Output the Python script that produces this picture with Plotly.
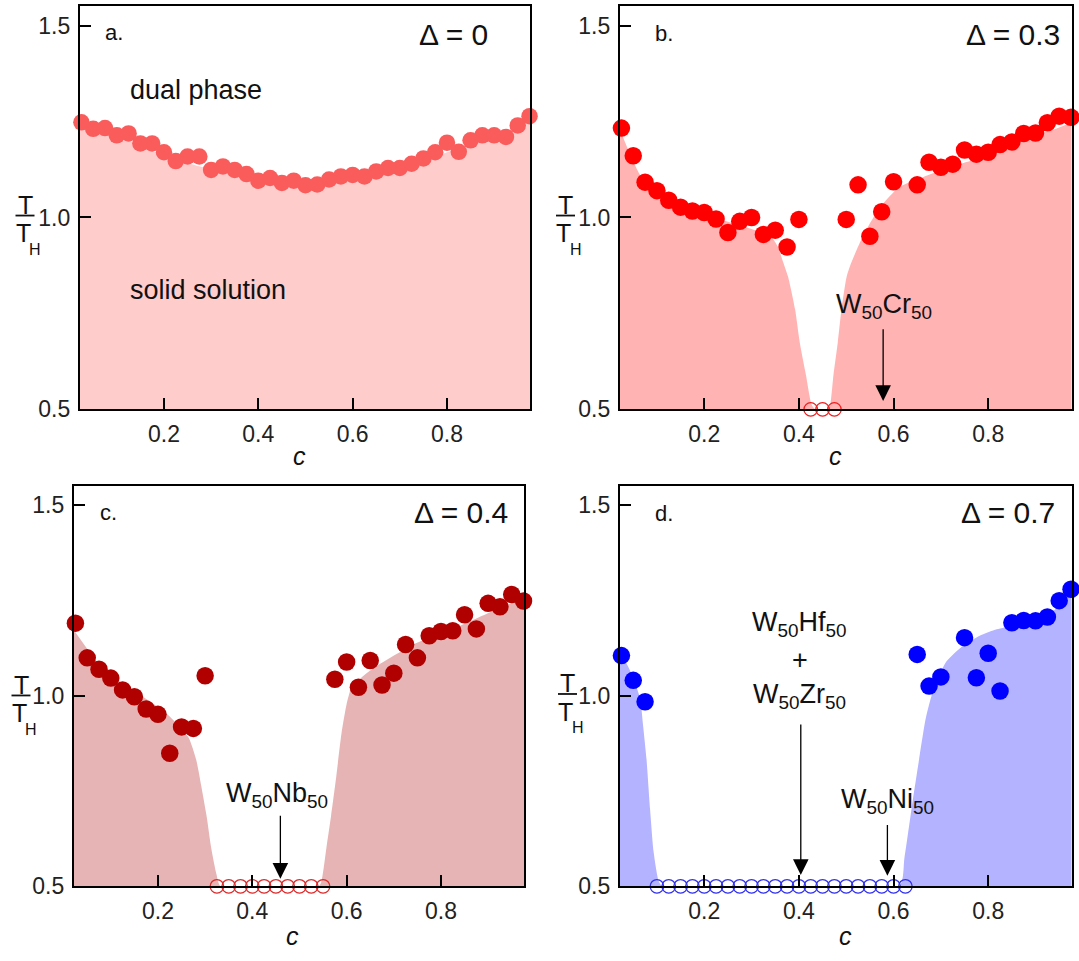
import plotly.graph_objects as go

W, H = 1079, 961
FONT = "Liberation Sans, Arial, sans-serif"
TXT = "#111111"

# ---------------- data ----------------
# panel a (Delta = 0)
c_a = [0.025, 0.05, 0.075, 0.1, 0.125, 0.15, 0.175, 0.2, 0.225, 0.25, 0.275, 0.3, 0.325,
       0.35, 0.375, 0.4, 0.425, 0.45, 0.475, 0.5, 0.525, 0.55, 0.575, 0.6, 0.625, 0.65,
       0.675, 0.7, 0.725, 0.75, 0.775, 0.8, 0.825, 0.85, 0.875, 0.9, 0.925, 0.95, 0.975]
t_a = [1.248, 1.231, 1.233, 1.214, 1.219, 1.193, 1.193, 1.170, 1.147, 1.159, 1.159, 1.124,
       1.133, 1.124, 1.113, 1.096, 1.103, 1.090, 1.096, 1.084, 1.086, 1.099, 1.107, 1.111,
       1.107, 1.120, 1.129, 1.129, 1.140, 1.154, 1.170, 1.195, 1.171, 1.201, 1.214, 1.214,
       1.210, 1.240, 1.264]
a_bc = [0.02, 0.1, 0.2, 0.3, 0.4, 0.5, 0.6, 0.7, 0.8, 0.9, 0.98]
a_bt = [1.245, 1.215, 1.16, 1.125, 1.098, 1.088, 1.107, 1.13, 1.17, 1.21, 1.255]

# panel b (Delta = 0.3)
c_b = [0.025, 0.05, 0.075, 0.1, 0.125, 0.15, 0.175, 0.2, 0.225, 0.25, 0.275, 0.3, 0.325,
       0.35, 0.375, 0.4, 0.5, 0.525, 0.55, 0.575, 0.6, 0.65, 0.675, 0.7, 0.725, 0.75,
       0.775, 0.8, 0.825, 0.85, 0.875, 0.9, 0.925, 0.95, 0.975]
t_b = [1.233, 1.161, 1.092, 1.070, 1.045, 1.027, 1.017, 1.013, 0.996, 0.961, 0.990, 1.000,
       0.956, 0.967, 0.923, 0.995, 0.995, 1.085, 0.951, 1.015, 1.093, 1.085, 1.144, 1.131,
       1.139, 1.176, 1.165, 1.170, 1.190, 1.197, 1.219, 1.220, 1.247, 1.264, 1.261]
open_b = [0.425, 0.45, 0.475]
b_bc = [0.02, 0.07, 0.14, 0.22, 0.29, 0.34, 0.355, 0.365, 0.377, 0.392, 0.402, 0.415, 0.427,
        0.435, 0.46, 0.466, 0.473, 0.482, 0.49, 0.501, 0.51, 0.536, 0.571, 0.613, 0.662,
        0.712, 0.794, 0.867, 0.94, 0.98]
b_bt = [1.235, 1.10, 1.035, 1.0, 0.974, 0.952, 0.925, 0.89, 0.846, 0.76, 0.673, 0.589, 0.512,
        0.5, 0.5, 0.512, 0.589, 0.673, 0.76, 0.846, 0.88, 0.953, 1.026, 1.08, 1.105,
        1.128, 1.16, 1.2, 1.23, 1.25]

# panel c (Delta = 0.4)
c_c = [0.025, 0.05, 0.075, 0.1, 0.125, 0.15, 0.175, 0.2, 0.225, 0.25, 0.275, 0.3,
       0.575, 0.6, 0.625, 0.65, 0.675, 0.7, 0.725, 0.75, 0.775, 0.8, 0.825, 0.85, 0.875,
       0.9, 0.925, 0.95, 0.975]
t_c = [1.190, 1.099, 1.069, 1.046, 1.015, 0.997, 0.965, 0.951, 0.849, 0.918, 0.914, 1.052,
       1.043, 1.088, 1.022, 1.092, 1.028, 1.059, 1.134, 1.099, 1.157, 1.168, 1.170, 1.212,
       1.175, 1.242, 1.233, 1.265, 1.248]
open_c = [0.325, 0.35, 0.375, 0.4, 0.425, 0.45, 0.475, 0.5, 0.525, 0.55]
c_bc = [0.02, 0.087, 0.16, 0.218, 0.264, 0.281, 0.292, 0.303, 0.313, 0.324, 0.333, 0.54,
        0.546, 0.557, 0.567, 0.578, 0.589, 0.6, 0.61, 0.631, 0.658, 0.68, 0.743, 0.816,
        0.889, 0.94, 0.98]
c_bt = [1.175, 1.065, 1.004, 0.953, 0.892, 0.832, 0.762, 0.685, 0.6, 0.532, 0.5, 0.5,
        0.51, 0.6, 0.685, 0.788, 0.9, 0.978, 1.02, 1.047, 1.073, 1.09, 1.135, 1.17,
        1.21, 1.238, 1.258]

# panel d (Delta = 0.7)
c_d = [0.025, 0.05, 0.075, 0.65, 0.675, 0.7, 0.75, 0.775, 0.8, 0.825, 0.85, 0.875, 0.9,
       0.925, 0.95, 0.975]
t_d = [1.105, 1.040, 0.984, 1.108, 1.025, 1.049, 1.152, 1.047, 1.111, 1.012, 1.191, 1.197,
       1.196, 1.206, 1.249, 1.279]
open_d = [0.1, 0.125, 0.15, 0.175, 0.2, 0.225, 0.25, 0.275, 0.3, 0.325, 0.35, 0.375, 0.4,
          0.425, 0.45, 0.475, 0.5, 0.525, 0.55, 0.575, 0.6, 0.625]
d_bc = [0.02, 0.043, 0.064, 0.071, 0.078, 0.0855, 0.093, 0.104, 0.112, 0.612, 0.623, 0.638,
        0.654, 0.668, 0.684, 0.712, 0.747, 0.782, 0.818, 0.853, 0.888, 0.923, 0.95, 0.98]
d_bt = [1.12, 1.066, 0.995, 0.919, 0.833, 0.703, 0.591, 0.513, 0.5, 0.5, 0.574, 0.703,
        0.833, 0.94, 1.015, 1.09, 1.131, 1.157, 1.174, 1.184, 1.196, 1.209, 1.235, 1.275]

x_ticks = [0.2, 0.4, 0.6, 0.8]
y_ticks = [0.5, 1.0, 1.5]
deltas = ["Δ = 0", "Δ = 0.3", "Δ = 0.4", "Δ = 0.7"]
letters = ["a.", "b.", "c.", "d."]

# ---------------- styles ----------------
panels = [
    dict(c=c_a, t=t_a, bc=a_bc, bt=a_bt, op=[], dot="#fa5c5c", fill="#ffcccc", ring="#fa5c5c", size=16.5),
    dict(c=c_b, t=t_b, bc=b_bc, bt=b_bt, op=open_b, dot="#ff0000", fill="#ffb3b3", ring="#ee2020", size=17.5),
    dict(c=c_c, t=t_c, bc=c_bc, bt=c_bt, op=open_c, dot="#b00000", fill="#e6b4b4", ring="#dd2a2a", size=17.5),
    dict(c=c_d, t=t_d, bc=d_bc, bt=d_bt, op=open_d, dot="#0000ff", fill="#b3b3ff", ring="#3030f0", size=17.5),
]

def px(x):
    return x / W

def py(y):
    return 1 - y / H

xdom = [[px(80), px(530)], [px(620), px(1071.5)], [px(74), px(524)], [px(620), px(1071.5)]]
ydom = [[py(415), py(6.5)], [py(415), py(6.5)], [py(898.5), py(492.5)], [py(898.5), py(492.5)]]

fig = go.Figure()
for i, p in enumerate(panels):
    xr = "x" if i == 0 else f"x{i+1}"
    yr = "y" if i == 0 else f"y{i+1}"
    fig.add_trace(go.Scatter(x=p["bc"], y=p["bt"], mode="lines", line=dict(width=0, color=p["fill"], shape="spline", smoothing=0.6),
                             fill="tozeroy", fillcolor=p["fill"], xaxis=xr, yaxis=yr, hoverinfo="skip"))
    if p["op"]:
        fig.add_trace(go.Scatter(x=p["op"], y=[0.5] * len(p["op"]), mode="markers",
                                 marker=dict(symbol="circle-open", size=13.5, color=p["ring"], line=dict(width=1.3, color=p["ring"])),
                                 cliponaxis=False, xaxis=xr, yaxis=yr))
    fig.add_trace(go.Scatter(x=p["c"], y=p["t"], mode="markers",
                             marker=dict(size=p["size"], color=p["dot"], line=dict(width=0)),
                             cliponaxis=False, xaxis=xr, yaxis=yr))

layout = dict(width=W, height=H, margin=dict(l=0, r=0, t=0, b=0), showlegend=False,
              paper_bgcolor="white", plot_bgcolor="white", font=dict(family=FONT, color=TXT))
for i in range(4):
    kx = "xaxis" if i == 0 else f"xaxis{i+1}"
    ky = "yaxis" if i == 0 else f"yaxis{i+1}"
    ax_anchor = "y" if i == 0 else f"y{i+1}"
    ay_anchor = "x" if i == 0 else f"x{i+1}"
    layout[kx] = dict(domain=xdom[i], anchor=ax_anchor, range=[0.022, 0.976], showline=True, linecolor="black",
                      linewidth=2.4, mirror=True, ticks="inside", ticklen=11, tickwidth=2.2, tickcolor="black",
                      tickvals=x_ticks, tickformat=".1f", tickfont=dict(size=23, family=FONT, color="#222222"),
                      showgrid=False, zeroline=False, ticklabelstandoff=3)
    layout[ky] = dict(domain=ydom[i], anchor=ay_anchor, range=[0.5, 1.55], showline=True, linecolor="black",
                      linewidth=2.4, mirror=True, ticks="inside", ticklen=11, tickwidth=2.2, tickcolor="black",
                      tickvals=y_ticks, tickformat=".1f", tickfont=dict(size=23, family=FONT, color="#222222"),
                      showgrid=False, zeroline=False, ticklabelstandoff=3)
fig.update_layout(**layout)

ann = []
shapes = []

def txt(x, y, s, size, xanchor="center", italic=False):
    ann.append(dict(x=px(x), y=py(y), xref="paper", yref="paper", text=s, showarrow=False,
                    xanchor=xanchor, yanchor="middle", font=dict(size=size, family=FONT, color=TXT,
                                                                  style="italic" if italic else "normal")))

# panel letters and Delta labels
letter_pos = [(114, 33), (664, 34), (108, 520), (664, 521)]
delta_pos = [(490, 35), (1062, 35), (510, 520), (1057, 520)]
for i in range(4):
    txt(letter_pos[i][0], letter_pos[i][1], letters[i], 22)
    txt(delta_pos[i][0], delta_pos[i][1], deltas[i], 30, xanchor="right")

# c axis titles
for (x, y) in [(299, 462), (835, 462), (292, 949), (845, 949)]:
    txt(x, y, "c", 25, italic=True)

# T / T_H
for (bx, by) in [(25, 218.5), (565.5, 218.5), (21, 705), (567.5, 703.5)]:
    txt(bx, by - 11, "T", 25)
    txt(bx - 2, by + 18, "T", 25)
    txt(bx + 10, by + 34, "H", 16)
    shapes.append(dict(type="line", xref="paper", yref="paper", x0=px(bx - 9.5), x1=px(bx + 9.5),
                       y0=py(by), y1=py(by), line=dict(color=TXT, width=1.8)))

# region labels panel a
txt(128, 91, "dual phase", 27, xanchor="left")
txt(128, 294, "solid solution", 27, xanchor="left")

# compound labels
txt(884, 310, "W<sub>50</sub>Cr<sub>50</sub>", 27)
txt(277, 806, "W<sub>50</sub>Nb<sub>50</sub>", 27)
txt(799, 633, "W<sub>50</sub>Hf<sub>50</sub>", 27)
txt(800, 669, "+", 27)
txt(799, 706, "W<sub>50</sub>Zr<sub>50</sub>", 27)
txt(887, 812, "W<sub>50</sub>Ni<sub>50</sub>", 27)

# arrows
for (xr, yr, x, y0, y1) in [("x2", "y2", 0.578, 0.713, 0.522), ("x3", "y3", 0.4595, 0.689, 0.52),
                            ("x4", "y4", 0.404, 0.928, 0.53), ("x4", "y4", 0.587, 0.665, 0.528)]:
    ann.append(dict(x=x, y=y1, xref=xr, yref=yr, ax=x, ay=y0, axref=xr, ayref=yr, text="",
                    showarrow=True, arrowhead=2, arrowsize=2.4, arrowwidth=1.3, arrowcolor="black", standoff=0))

fig.update_layout(annotations=ann, shapes=shapes)
fig.write_html("out.html")
